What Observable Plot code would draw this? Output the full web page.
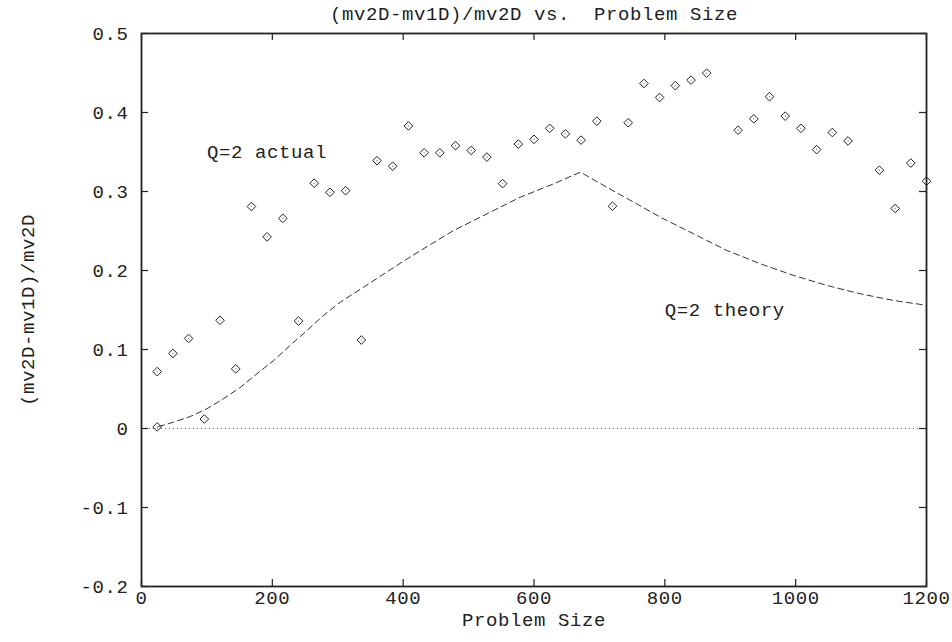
<!DOCTYPE html>
<html><head><meta charset="utf-8">
<script src="https://cdn.jsdelivr.net/npm/d3@7"></script>
<script src="https://cdn.jsdelivr.net/npm/@observablehq/plot@0.6"></script>
<style>
html,body{margin:0;padding:0;background:#fff}
svg{display:block}
svg text{white-space:pre;letter-spacing:0.6px}
</style>
</head><body><div id="chart"></div>
<script>
// "Q=2 actual" measured points
const sizes = [24, 24, 48, 72, 96, 120, 144, 168, 192, 216, 240, 264, 288, 312, 336, 360, 384, 408, 432, 456, 480, 504, 528, 552, 576, 600, 624, 648, 672, 696, 720, 744, 768, 792, 816, 840, 864, 912, 936, 960, 984, 1008, 1032, 1056, 1080, 1128, 1152, 1176, 1200];
const actual = [0.072, 0.002, 0.095, 0.114, 0.012, 0.137, 0.0755, 0.281, 0.2426, 0.266, 0.136, 0.3105, 0.299, 0.301, 0.112, 0.339, 0.332, 0.383, 0.349, 0.349, 0.358, 0.352, 0.3435, 0.310, 0.360, 0.366, 0.380, 0.373, 0.365, 0.389, 0.2814, 0.387, 0.4367, 0.419, 0.434, 0.441, 0.4498, 0.3776, 0.392, 0.420, 0.3954, 0.380, 0.353, 0.3747, 0.364, 0.327, 0.2785, 0.336, 0.313];

// "Q=2 theory" curve
const theorySizes = [26, 49, 74, 100, 125, 151, 176, 202, 227, 253, 278, 304, 336, 398, 428, 477, 528, 579, 630, 671, 711, 757, 793, 844, 895, 946, 997, 1048, 1099, 1150, 1200];
const theory = [0.0025, 0.008, 0.015, 0.025, 0.0375, 0.052, 0.069, 0.086, 0.105, 0.124, 0.143, 0.160, 0.177, 0.2105, 0.226, 0.2506, 0.2717, 0.2928, 0.3097, 0.3245, 0.3055, 0.2844, 0.2675, 0.2464, 0.2253, 0.2085, 0.1937, 0.181, 0.1705, 0.162, 0.156];

const xTicks = [0, 200, 400, 600, 800, 1000, 1200];
const xTickLabels = ["0", "200", "400", "600", "800", "1000", "1200"];
const yTicks = [-0.2, -0.1, 0, 0.1, 0.2, 0.3, 0.4, 0.5];
const yTickLabels = ["-0.2", "-0.1", "0", "0.1", "0.2", "0.3", "0.4", "0.5"];

const titleText = "(mv2D-mv1D)/mv2D vs.  Problem Size";
const xLabel = "Problem Size";
const yLabel = "(mv2D-mv1D)/mv2D";
const labelTexts = ["Q=2 actual", "Q=2 theory"];
const labelX = [100, 800];
const labelY = [0.35, 0.15];

const actualData = sizes.map((s, i) => ({size: s, value: actual[i]}));
const theoryData = theorySizes.map((s, i) => ({size: s, value: theory[i]}));
const labelData = labelTexts.map((t, i) => ({text: t, x: labelX[i], y: labelY[i]}));
const xFmt = d => xTickLabels[xTicks.indexOf(d)] ?? "";
const yFmt = d => yTickLabels[yTicks.findIndex(t => Math.abs(t - d) < 1e-9)] ?? "";

const W = 952, H = 642;
const mL = 141, mR = 26, mT = 33, mB = 56;
const frameW = W - mL - mR, frameH = H - mT - mB;
const tickLen = 7;

const ink = "#222";
const fs = 19;
const chart = Plot.plot({
  width: W,
  height: H,
  marginLeft: mL,
  marginRight: mR,
  marginTop: mT,
  marginBottom: mB,
  style: {fontFamily: "'Liberation Mono', 'Courier New', monospace", fontSize: fs + "px", color: ink, background: "#fff"},
  x: {domain: [0, 1200]},
  y: {domain: [-0.2, 0.5]},
  marks: [
    Plot.ruleY([0], {stroke: "#666", strokeDasharray: "1,3", strokeWidth: 1}),
    Plot.line(theoryData, {x: "size", y: "value", stroke: "#333", strokeWidth: 1, strokeDasharray: "6,4"}),
    Plot.dot(actualData, {x: "size", y: "value", symbol: "diamond2", r: 3.9, stroke: ink, strokeWidth: 1, fill: "none"}),
    Plot.dot(actualData, {x: "size", y: "value", r: 0.6, fill: "#666", stroke: "none"}),
    Plot.axisX(xTicks, {anchor: "bottom", tickSize: 0, tickPadding: 4, tickFormat: xFmt, label: null, fontSize: fs, fill: ink}),
    Plot.axisY(yTicks, {anchor: "left", tickSize: 0, tickPadding: 13, tickFormat: yFmt, label: null, fontSize: fs, fill: ink}),
    // inward tick marks on all four sides (gnuplot "mirror" style)
    Plot.ruleX(xTicks, {x: d => d, insetTop: frameH - tickLen, stroke: ink, strokeWidth: 1.2}),
    Plot.ruleX(xTicks, {x: d => d, insetBottom: frameH - tickLen, stroke: ink, strokeWidth: 1.2}),
    Plot.ruleY(yTicks, {y: d => d, insetRight: frameW - tickLen, stroke: ink, strokeWidth: 1.2}),
    Plot.ruleY(yTicks, {y: d => d, insetLeft: frameW - tickLen, stroke: ink, strokeWidth: 1.2}),
    Plot.frame({stroke: ink, strokeWidth: 1.8}),
    Plot.text(labelData, {x: "x", y: "y", text: "text", textAnchor: "start", fill: ink, fontSize: fs}),
    Plot.text([titleText], {text: d => d, frameAnchor: "top", lineAnchor: "middle", dy: -20, fill: ink, fontSize: fs}),
    Plot.text([xLabel], {text: d => d, frameAnchor: "bottom", lineAnchor: "middle", dy: 33, fill: ink, fontSize: fs}),
    Plot.text([yLabel], {text: d => d, frameAnchor: "left", textAnchor: "middle", lineAnchor: "middle", dx: -114, rotate: -90, fill: ink, fontSize: fs})
  ]
});
document.getElementById("chart").appendChild(chart);
</script>
</body></html>
